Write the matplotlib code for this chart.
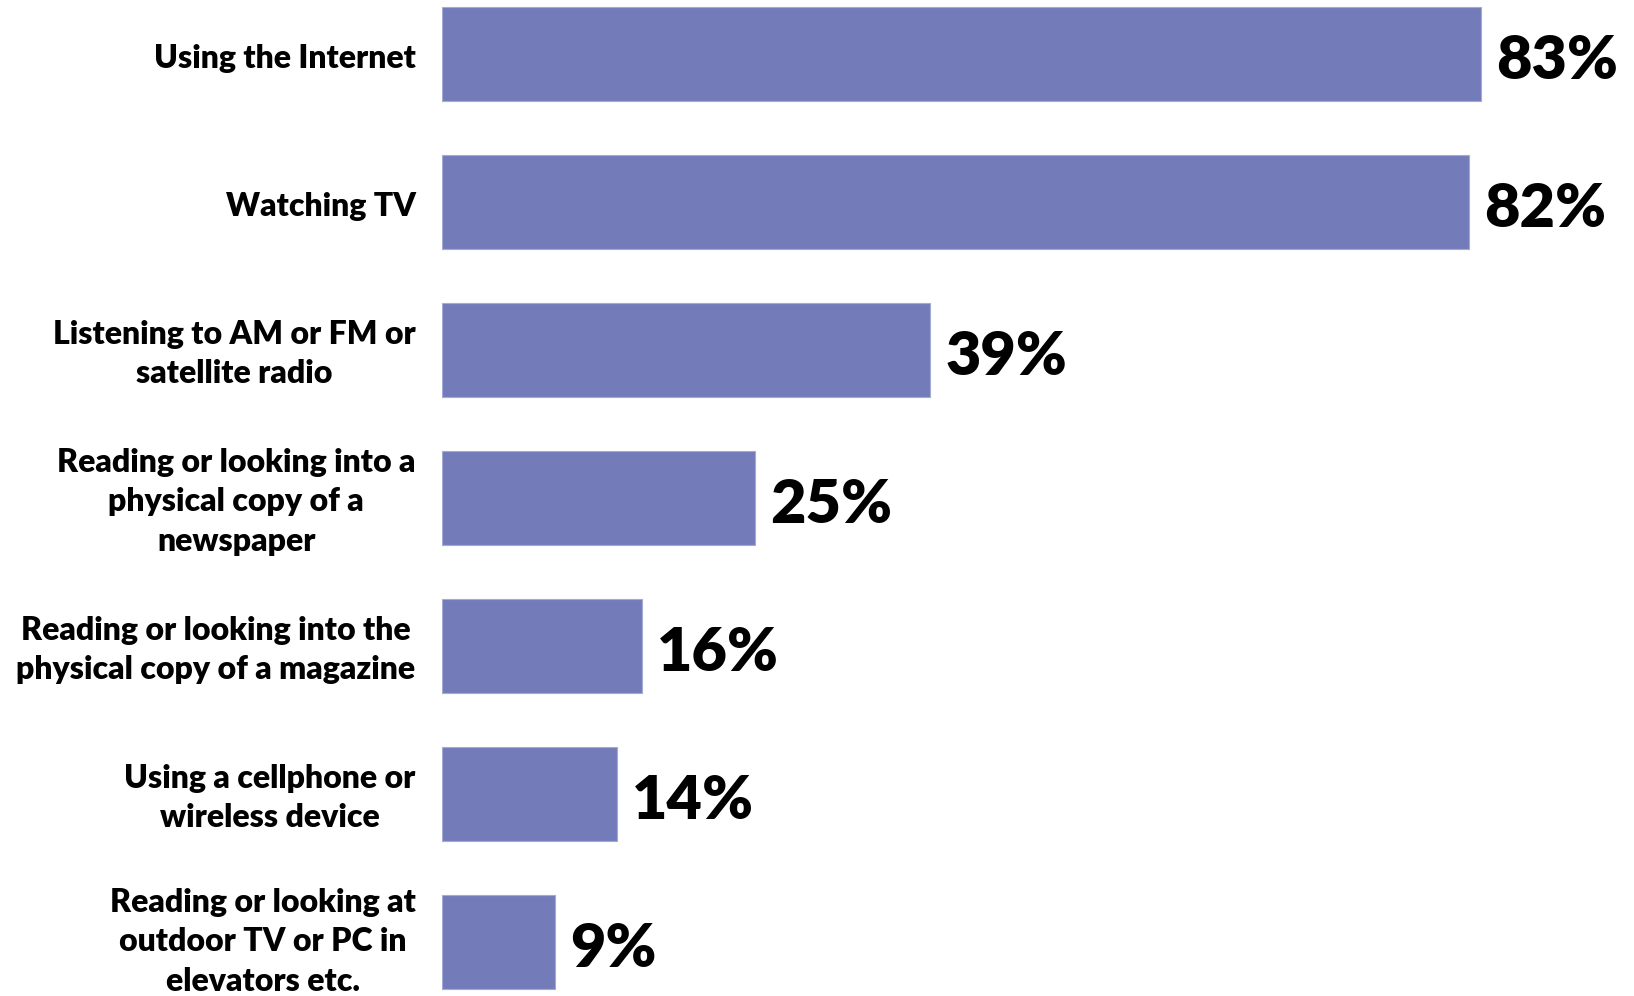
import matplotlib
matplotlib.use("Agg")
import matplotlib.pyplot as plt
import matplotlib.transforms as mtransforms

# Categorías y valores (%)
categories = [
    "Using the Internet",
    "Watching TV",
    "Listening to AM or FM or\nsatellite radio",
    "Reading or looking into a\nphysical copy of a\nnewspaper",
    "Reading or looking into the\nphysical copy of a magazine",
    "Using a cellphone or\nwireless device",
    "Reading or looking at\noutdoor TV or PC in\nelevators etc.",
]
values = [83, 82, 39, 25, 16, 14, 9]
value_labels = ["83%", "82%", "39%", "25%", "16%", "14%", "9%"]

bar_color = "#737bb9"

plt.rcParams['font.family'] = ['Lato', 'DejaVu Sans']

fig = plt.figure(figsize=(16.34, 9.96), dpi=100)
ax = fig.add_axes([0.2705, 0.0, 0.7295, 1.0])

ypos = list(range(len(values)))
ax.barh(ypos, values, height=0.635, color=bar_color, edgecolor="#a4aad6", linewidth=0.8)

for y, v, lab in zip(ypos, values, value_labels):
    ax.text(v + 1.2, y + 0.05, lab, va="center", ha="left",
            fontsize=44, fontweight="heavy", color="black")

ax.set_yticks(ypos)
ax.set_yticklabels(categories, fontsize=23, fontweight="heavy",
                   multialignment="center", linespacing=1.45, va="center")
ax.tick_params(axis="y", length=0, pad=19)
# bajar un poco las etiquetas (la última no, para que no se corte)
labels = ax.get_yticklabels()
for lbl in labels[:-1]:
    offset = mtransforms.ScaledTranslation(0, -0.04, fig.dpi_scale_trans)
    lbl.set_transform(lbl.get_transform() + offset)
ax.set_xticks([])
ax.set_xlim(0, 95.2)
ax.set_ylim(6.365, -0.365)
for s in ax.spines.values():
    s.set_visible(False)

fig.savefig("out.png", dpi=100)
